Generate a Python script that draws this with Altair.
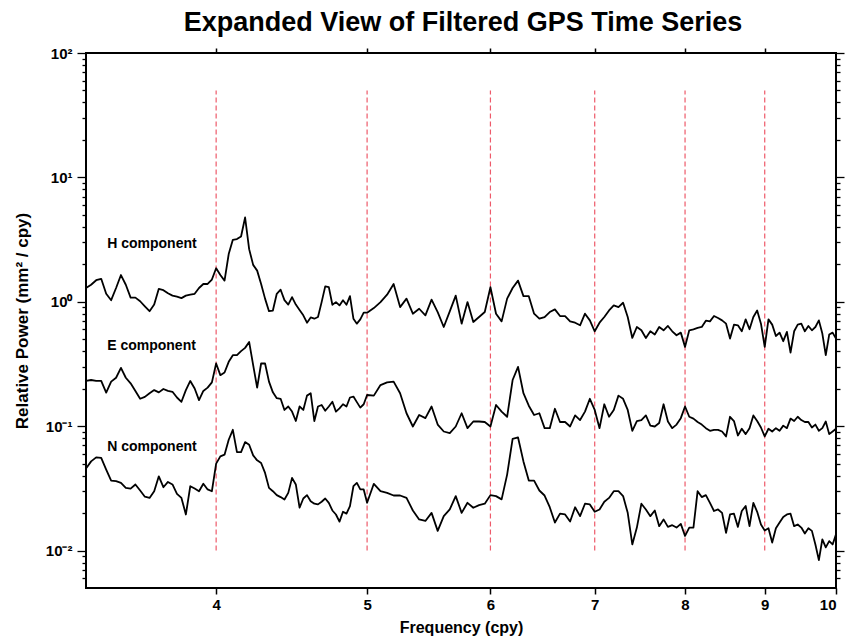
import altair as alt
import pandas as pd

# Frequency grid (cpy)
freq_low = [3.300, 3.325, 3.350, 3.375, 3.400, 3.425, 3.450, 3.475, 3.500, 3.525,
            3.550, 3.575, 3.600, 3.625, 3.650, 3.675, 3.700, 3.725, 3.750, 3.775,
            3.800, 3.825, 3.850, 3.875, 3.900, 3.925, 3.950, 3.975, 4.000, 4.025,
            4.050, 4.075, 4.100, 4.125, 4.150, 4.175, 4.200, 4.225, 4.250, 4.275,
            4.300, 4.325, 4.350, 4.375, 4.400, 4.425, 4.450, 4.475, 4.500, 4.525,
            4.550, 4.575, 4.600, 4.625, 4.650, 4.675, 4.700, 4.725, 4.750, 4.775,
            4.800, 4.825, 4.850, 4.875, 4.900, 4.925, 4.950, 4.975, 5.000]
freq_high = [5.05, 5.10, 5.15, 5.20, 5.25, 5.30, 5.35, 5.40, 5.45, 5.50,
             5.55, 5.60, 5.65, 5.70, 5.75, 5.80, 5.85, 5.90, 5.95, 6.00,
             6.05, 6.10, 6.15, 6.20, 6.25, 6.30, 6.35, 6.40, 6.45, 6.50,
             6.55, 6.60, 6.65, 6.70, 6.75, 6.80, 6.85, 6.90, 6.95, 7.00,
             7.05, 7.10, 7.15, 7.20, 7.25, 7.30, 7.35, 7.40, 7.45, 7.50,
             7.55, 7.60, 7.65, 7.70, 7.75, 7.80, 7.85, 7.90, 7.95, 8.00,
             8.05, 8.10, 8.15, 8.20, 8.25, 8.30, 8.35, 8.40, 8.45, 8.50,
             8.55, 8.60, 8.65, 8.70, 8.75, 8.80, 8.85, 8.90, 8.95, 9.00,
             9.05, 9.10, 9.15, 9.20, 9.25, 9.30, 9.35, 9.40, 9.45, 9.50,
             9.55, 9.60, 9.65, 9.70, 9.75, 9.80, 9.85, 9.90, 9.95, 10.00]

# H component relative power (mm^2/cpy)
h_power = [1.29, 1.37, 1.49, 1.53, 1.16, 1.03, 1.29, 1.64, 1.37, 1.08,
           1.08, 1.01, 0.92, 0.84, 0.95, 1.27, 1.24, 1.17, 1.12, 1.10,
           1.07, 1.12, 1.14, 1.16, 1.29, 1.39, 1.39, 1.51, 1.86, 1.64,
           1.48, 2.42, 3.15, 3.19, 3.35, 4.76, 2.65, 1.98, 1.78, 1.39,
           1.06, 0.84, 0.85, 1.16, 1.25, 1.03, 0.95, 1.09, 0.95, 0.86,
           0.778, 0.679, 0.749, 0.731, 0.754, 0.994, 1.33, 1.31, 0.946, 0.994,
           0.935, 1.03, 0.946, 1.11, 0.731, 0.667, 0.722, 0.817, 0.817,
           0.890, 0.994, 1.14, 1.39, 0.906, 1.06, 0.802, 0.879, 0.778, 1.04,
           0.827, 0.627, 0.837, 1.12, 0.667, 0.994, 0.688, 0.754, 0.827, 1.31,
           0.802, 0.696, 1.06, 1.29, 1.48, 1.11, 1.11, 0.802, 0.731, 0.754,
           0.827, 0.868, 0.768, 0.768, 0.696, 0.679, 0.647, 0.802, 0.709, 0.579,
           0.679, 0.754, 0.852, 0.935, 0.906, 0.982, 0.754, 0.512, 0.627, 0.590,
           0.512, 0.579, 0.545, 0.627, 0.590, 0.639, 0.579, 0.538, 0.565, 0.434,
           0.590, 0.601, 0.616, 0.627, 0.705, 0.696, 0.768, 0.740, 0.709, 0.667,
           0.506, 0.655, 0.647, 0.579, 0.722, 0.601, 0.754, 0.852, 0.667, 0.434,
           0.722, 0.655, 0.531, 0.565, 0.482, 0.572, 0.391, 0.579, 0.655, 0.667,
           0.579, 0.639, 0.590, 0.627, 0.709, 0.555, 0.372, 0.545, 0.565, 0.506]

# E component relative power
e_power = [0.231, 0.235, 0.231, 0.231, 0.186, 0.228, 0.245, 0.294, 0.245, 0.221,
           0.192, 0.166, 0.172, 0.184, 0.195, 0.187, 0.199, 0.192, 0.189, 0.170,
           0.157, 0.195, 0.231, 0.201, 0.162, 0.192, 0.204, 0.225, 0.319, 0.257,
           0.270, 0.329, 0.372, 0.372, 0.401, 0.426, 0.476, 0.310, 0.204, 0.319,
           0.319, 0.228, 0.187, 0.168, 0.166, 0.135, 0.144, 0.131, 0.110, 0.144,
           0.135, 0.176, 0.184, 0.110, 0.144, 0.148, 0.133, 0.144, 0.157, 0.131,
           0.139, 0.150, 0.144, 0.170, 0.173, 0.156, 0.141, 0.150, 0.178,
           0.176, 0.214, 0.225, 0.228, 0.184, 0.127, 0.0994, 0.123, 0.116, 0.144,
           0.103, 0.0906, 0.0879, 0.0994, 0.127, 0.0964, 0.109, 0.109, 0.108, 0.0994,
           0.148, 0.131, 0.119, 0.235, 0.300, 0.184, 0.146, 0.123, 0.127, 0.0964,
           0.0964, 0.138, 0.108, 0.108, 0.0994, 0.122, 0.112, 0.131, 0.166, 0.135,
           0.0964, 0.150, 0.119, 0.135, 0.176, 0.166, 0.135, 0.0918, 0.110, 0.112,
           0.122, 0.101, 0.0994, 0.106, 0.150, 0.109, 0.0964, 0.103, 0.116, 0.144,
           0.119, 0.115, 0.108, 0.103, 0.0964, 0.0918, 0.0935, 0.0935, 0.0906, 0.0827,
           0.119, 0.110, 0.0842, 0.0953, 0.0863, 0.0964, 0.122, 0.110, 0.0976, 0.0827,
           0.0953, 0.0906, 0.0964, 0.0918, 0.101, 0.0964, 0.115, 0.110, 0.119, 0.112,
           0.108, 0.108, 0.0976, 0.103, 0.0918, 0.0964, 0.109, 0.0863, 0.0906, 0.0953]

# N component relative power
n_power = [0.0456, 0.0521, 0.0561, 0.0555, 0.0448, 0.0365, 0.0361, 0.0350, 0.0319, 0.0315,
           0.0340, 0.0304, 0.0271, 0.0265, 0.0300, 0.0395, 0.0323, 0.0356, 0.0340, 0.0286,
           0.0265, 0.0195, 0.0329, 0.0315, 0.0300, 0.0344, 0.0310, 0.0300, 0.0500, 0.0572,
           0.0590, 0.0778, 0.0935, 0.0619, 0.0619, 0.0745, 0.0709, 0.0582, 0.0531, 0.0506,
           0.0421, 0.0319, 0.0300, 0.0279, 0.0269, 0.0257, 0.0291, 0.0384, 0.0340, 0.0221,
           0.0262, 0.0279, 0.0249, 0.0238, 0.0235, 0.0247, 0.0262, 0.0242, 0.0210, 0.0195,
           0.0171, 0.0205, 0.0198, 0.0228, 0.0329, 0.0350, 0.0310, 0.0310, 0.0242,
           0.0344, 0.0300, 0.0291, 0.0277, 0.0277, 0.0265, 0.0210, 0.0178, 0.0173, 0.0201,
           0.0144, 0.0189, 0.0214, 0.0274, 0.0201, 0.0242, 0.0221, 0.0232, 0.0238, 0.0279,
           0.0274, 0.0258, 0.0408, 0.0792, 0.0811, 0.0521, 0.0365, 0.0365, 0.0304, 0.0277,
           0.0223, 0.0168, 0.0198, 0.0195, 0.0171, 0.0223, 0.0189, 0.0238, 0.0235, 0.0205,
           0.0214, 0.0247, 0.0265, 0.0300, 0.0300, 0.0274, 0.0201, 0.0112, 0.0153, 0.0238,
           0.0214, 0.0189, 0.0210, 0.0157, 0.0178, 0.0155, 0.0160, 0.0153, 0.0164, 0.0131,
           0.0153, 0.0153, 0.0300, 0.0269, 0.0279, 0.0242, 0.0208, 0.0214, 0.0201, 0.0139,
           0.0195, 0.0198, 0.0155, 0.0208, 0.0228, 0.0157, 0.0242, 0.0205, 0.0162, 0.0145,
           0.0151, 0.0116, 0.0151, 0.0168, 0.0186, 0.0195, 0.0198, 0.0157, 0.0162, 0.0153,
           0.0137, 0.0151, 0.0144, 0.0112, 0.00837, 0.0123, 0.0106, 0.0119, 0.0112, 0.0135]

# Annual-harmonic marker lines
marker_freq = [4, 5, 6, 7, 8, 9]
marker_low = [0.01] * 6
marker_high = [50] * 6

# Component labels
label_text = ["H component", "E component", "N component"]
label_freq = [3.405, 3.405, 3.405]
label_power = [2.91, 0.445, 0.068]

# Axis ticks
x_ticks = [4, 5, 6, 7, 8, 9, 10]
x_top_ticks = [4, 5, 6, 7, 8, 9]
y_ticks = [0.006, 0.007, 0.008, 0.009,
           0.01, 0.02, 0.03, 0.04, 0.05, 0.06, 0.07, 0.08, 0.09,
           0.1, 0.2, 0.3, 0.4, 0.5, 0.6, 0.7, 0.8, 0.9,
           1, 2, 3, 4, 5, 6, 7, 8, 9,
           10, 20, 30, 40, 50, 60, 70, 80, 90, 100]

freq = freq_low + freq_high
rows = []
for name, vals in [("H", h_power), ("E", e_power), ("N", n_power)]:
    for f, v in zip(freq, vals):
        rows.append({"freq": f, "power": v, "comp": name})
series = pd.DataFrame(rows)
markers = pd.DataFrame({"freq": marker_freq, "lo": marker_low, "hi": marker_high})
labels = pd.DataFrame({"freq": label_freq, "power": label_power, "text": label_text})

FONT = "Liberation Sans"
xscale = alt.Scale(type="log", domain=[3.3, 10], nice=False)
yscale = alt.Scale(type="log", domain=[0.005, 100], nice=False)

major_test = "indexof([0.01, 0.1, 1, 10, 100], datum.value) >= 0"
label_expr = ("datum.value == 100 ? '10²' : datum.value == 10 ? '10¹' : "
              "datum.value == 1 ? '10⁰' : datum.value == 0.1 ? '10⁻¹' : "
              "datum.value == 0.01 ? '10⁻²' : ''")

left_axis = alt.Axis(
    orient="left", values=y_ticks, labelExpr=label_expr, labelOverlap=False,
    tickSize={"condition": {"test": major_test, "value": 9}, "value": 4},
    tickWidth=1.3, tickColor="black", labelPadding=5,
    labelFont=FONT, labelFontSize=15, labelFontWeight="bold", labelColor="black",
    title="Relative Power (mm² / cpy)", titleFont=FONT, titleFontSize=17,
    titleFontWeight="bold", titleColor="black", titlePadding=14,
    domain=False, grid=False)
right_axis = alt.Axis(
    orient="right", values=y_ticks, labels=False, title=None,
    tickSize={"condition": {"test": major_test, "value": 8}, "value": 4},
    tickWidth=1.3, tickColor="black", domain=False, grid=False)
bottom_axis = alt.Axis(
    orient="bottom", values=x_ticks, format="d", labelOverlap=False,
    tickSize=6, tickWidth=1.5, tickColor="black", labelPadding=3,
    labelFont=FONT, labelFontSize=15, labelFontWeight="bold", labelColor="black",
    title="Frequency (cpy)", titleFont=FONT, titleFontSize=16,
    titleFontWeight="bold", titleColor="black", titlePadding=7,
    domain=False, grid=False)
top_axis = alt.Axis(
    orient="top", values=x_top_ticks, labels=False, title=None,
    tickSize=5, tickWidth=1.5, tickColor="black", domain=False, grid=False)

rules = alt.Chart(markers).mark_rule(
    color="#ee5a6a", strokeDash=[5, 3], strokeWidth=1.2
).encode(
    x=alt.X("freq:Q", scale=xscale, axis=top_axis),
    y=alt.Y("lo:Q", scale=yscale, axis=right_axis),
    y2="hi:Q",
)

lines = alt.Chart(series).mark_line(
    color="black", strokeWidth=1.8, strokeJoin="round"
).encode(
    x=alt.X("freq:Q", scale=xscale, axis=bottom_axis),
    y=alt.Y("power:Q", scale=yscale, axis=left_axis),
    detail="comp:N",
    order="freq:Q",
)

texts = alt.Chart(labels).mark_text(
    align="left", baseline="middle", font=FONT, fontSize=14,
    fontWeight="bold", color="black"
).encode(
    x=alt.X("freq:Q", scale=xscale, axis=None),
    y=alt.Y("power:Q", scale=yscale, axis=None),
    text="text:N",
)

chart = alt.layer(rules, lines, texts).resolve_axis(
    x="independent", y="independent"
).properties(
    width=750,
    height=535,
    autosize=alt.AutoSizeParams(type="none"),
    padding={"left": 78, "top": 45, "right": 10, "bottom": 48},
    title=alt.TitleParams(
        "Expanded View of Filtered GPS Time Series",
        font=FONT, fontSize=27, fontWeight="bold", color="black",
        anchor="middle", offset=9, dx=2,
    ),
).configure(
    background="white"
).configure_view(
    stroke="black", strokeWidth=2
)

chart.save("out.html", embed_options={"renderer": "svg", "actions": False})
